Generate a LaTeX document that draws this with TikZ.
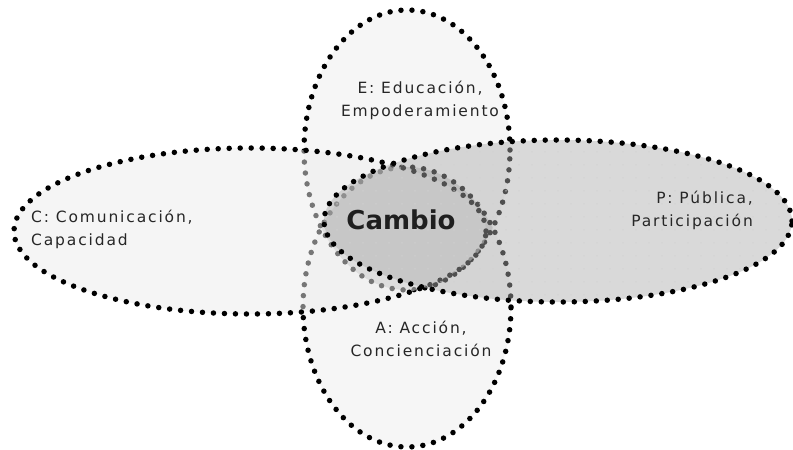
\documentclass[tikz,border=0pt]{standalone}
\usepackage{fontspec}
\newfontfamily\lblfont[LetterSpace=12]{DejaVu Sans}
\newfontfamily\cmbfont{DejaVu Sans}
\usetikzlibrary{patterns.meta}
\definecolor{txt}{gray}{0.15}
\definecolor{cfill}{gray}{0.93}
\definecolor{pfill}{gray}{0.68}
\definecolor{vfill}{gray}{0.965}
\definecolor{lensfill}{gray}{0.81}
\tikzset{
  dotline/.style={draw=black, line width=5.5pt, dash pattern=on 0pt off 11pt, line cap=round},
  lbl/.style={font=\lblfont\fontsize{15.5}{23}\selectfont, text=txt, inner sep=0pt},
  cmb/.style={font=\cmbfont\bfseries\fontsize{26}{30}\selectfont, text=black!88, inner sep=0pt},
  Eell/.style={insert path={(407,150) ellipse [x radius=103pt, y radius=140pt]}},
  Aell/.style={insert path={(407,307) ellipse [x radius=104pt, y radius=140pt]}},
  Cell/.style={insert path={(250,231) ellipse [x radius=236pt, y radius=83pt]}},
  Pell/.style={insert path={(558,221) ellipse [x radius=234pt, y radius=81pt]}},
}
\begin{document}
\begin{tikzpicture}[x=1pt,y=-1pt]
\useasboundingbox (0,0) rectangle (793,450);
\fill[white] (0,0) rectangle (793,450);
% E and A (vertical pair)
\fill[vfill, Eell];
\fill[vfill, Aell];
\begin{scope}
  \clip[Aell];
  \fill[lensfill, Eell];
\end{scope}
\draw[dotline, Eell];
\draw[dotline, Aell];
% C
\fill[cfill, fill opacity=0.5, Cell];
\draw[dotline, Cell];
% P
\fill[pfill, fill opacity=0.46, Pell];
\path[pattern={Dots[distance=13pt, radius=0.8pt]}, pattern color=black!18, Pell];
\draw[dotline, Pell];
% labels
\node[lbl, anchor=west, align=left] (c) at (31,229) {C: Comunicación,\\Capacidad};
\node[lbl, align=center] (e) at (420,100) {E: Educación,\\Empoderamiento};
\node[lbl, anchor=east, align=right] (p) at (753,210) {P: Pública,\\Participación};
\node[lbl, align=center] (a) at (421,339) {A: Acción,\\Concienciación};
\node[cmb] (cambio) at (401,220) {Cambio};
\end{tikzpicture}
\end{document}
